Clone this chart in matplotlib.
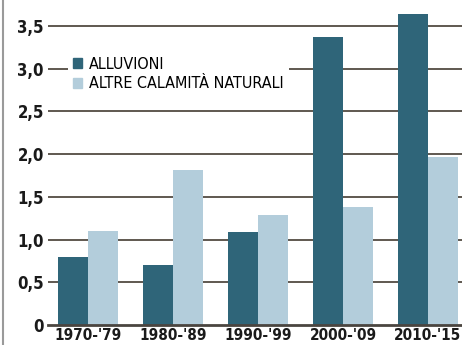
import matplotlib.pyplot as plt
import numpy as np
from matplotlib.patches import Patch
from matplotlib.lines import Line2D

# Dati
decenni = ["1970-'79", "1980-'89", "1990-'99", "2000-'09", "2010-'15"]
alluvioni = [0.80, 0.70, 1.09, 3.37, 3.64]
altre_calamita = [1.10, 1.82, 1.29, 1.38, 1.97]
tick_valori = [0, 0.5, 1.0, 1.5, 2.0, 2.5, 3.0, 3.5]
tick_etichette = ["0", "0,5", "1,0", "1,5", "2,0", "2,5", "3,0", "3,5"]

col_scuro = '#2f6579'
col_chiaro = '#b3cddb'
col_griglia = '#5f5850'

fig = plt.figure(figsize=(4.62, 3.45), dpi=100)
ax = fig.add_axes([48 / 462, 20 / 345, 414 / 462, 325 / 345])

x = np.arange(len(decenni))
larghezza = 0.35
ax.bar(x - larghezza / 2, alluvioni, larghezza, color=col_scuro, zorder=2)
ax.bar(x + larghezza / 2, altre_calamita, larghezza, color=col_chiaro, zorder=2)

ax.set_xlim(-0.47, 4.4)
ax.set_ylim(0, 3.804)

# Griglia orizzontale dietro le barre
for v in tick_valori[1:]:
    ax.axhline(v, color=col_griglia, lw=1.4, zorder=1)

for s in ['top', 'right', 'left']:
    ax.spines[s].set_visible(False)
ax.spines['bottom'].set_color('#4a4540')
ax.spines['bottom'].set_linewidth(2)

ax.set_yticks(tick_valori)
ax.set_yticklabels(tick_etichette, family='DejaVu Sans', stretch='condensed',
                   fontweight='bold', fontsize=12, color='#1a1a1a')
ax.set_xticks(x)
ax.set_xticklabels(decenni, family='DejaVu Sans', stretch='condensed',
                   fontweight='bold', fontsize=11, color='#1a1a1a')
ax.tick_params(axis='y', length=0, pad=3)
ax.tick_params(axis='x', length=0, pad=2.5)

# Legenda
maniglie = [Patch(color=col_scuro, label='ALLUVIONI'),
            Patch(color=col_chiaro, label='ALTRE CALAMITÀ NATURALI')]
leg = ax.legend(handles=maniglie, loc='upper left', bbox_to_anchor=(0.03, 0.865),
                frameon=True, facecolor='white', edgecolor='none', framealpha=1,
                handlelength=0.55, handleheight=0.55, handletextpad=0.45,
                labelspacing=0.3, borderpad=0.3, fancybox=False,
                prop={'family': 'DejaVu Sans', 'stretch': 'condensed', 'size': 11.5})
leg.set_zorder(5)

# Bordo sinistro del riquadro
fig.add_artist(Line2D([3 / 462, 3 / 462], [0, 1], color='#9a9a9a', lw=1.5))

fig.savefig('out.png', dpi=100)
